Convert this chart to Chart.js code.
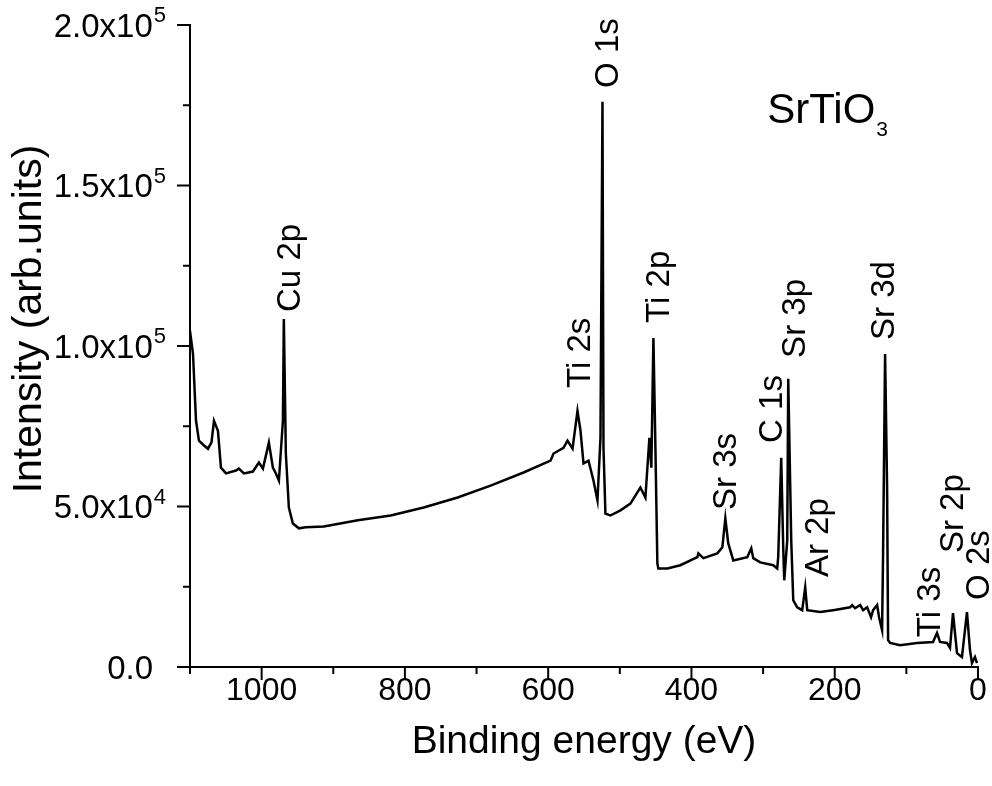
<!DOCTYPE html>
<html>
<head>
<meta charset="utf-8">
<script src="https://cdn.jsdelivr.net/npm/chart.js@4.4.1/dist/chart.umd.min.js"></script>
<style>
html,body{margin:0;padding:0;background:#ffffff;}
#wrap{width:992px;height:786px;position:relative;}
</style>
</head>
<body>
<div id="wrap"><canvas id="c" width="992" height="786"></canvas></div>
<script>
// ---------------- data ----------------
const energy = [
  1100, 1095.8, 1091.6, 1087.5, 1080.5, 1074.9, 1070, 1066.5, 1061, 1056.8,
  1049.8, 1035.9, 1031.7, 1024.7, 1012.2, 1003.8, 998.2, 989.9, 984.3, 980.1,
  975.9, 970.3, 969, 966.2, 962, 956.4, 948, 938.3, 913.2, 865.8,
  819.8, 773.8, 726.4, 680.4, 634.4, 596.7, 592.5, 578.6, 573, 566,
  559.1, 554.9, 550.7, 543.7, 536.8, 531.2, 527, 524.2, 522.8, 520.1,
  513.1, 499.1, 485.2, 471.3, 464.3, 461.5, 458.7, 456, 453.1, 450.3,
  447.6, 446.2, 433.6, 415.5, 391.8, 390.4, 383.4, 363.9, 356.9, 352.7,
  348.6, 341.6, 322.1, 316.5, 313.7, 303.9, 285.8, 280.3, 278.9, 274.7,
  271.9, 270.5, 266.3, 264.9, 260.7, 257.9, 252.4, 245.4, 241.2, 238.4,
  220.3, 202.2, 178.5, 175.7, 171.5, 164.5, 160.4, 154.8, 149.3, 146.4,
  140.8, 138.1, 133.9, 132.5, 129.7, 126.9, 125.5, 122.7, 108.8, 85.1,
  62.8, 57.2, 53, 43.3, 39.1, 34.9, 29.3, 22.4, 15.4, 11.2,
  8.4, 4.2, 1.4
];
const intensity = [
  104700, 97500, 76700, 70500, 69000, 68000, 70000, 76700, 73600, 62100,
  60300, 61200, 61800, 60300, 60900, 63700, 61800, 69900, 62100, 60300,
  58100, 76700, 108400, 66500, 49700, 44700, 43200, 43500, 43800, 45700,
  47200, 49700, 52800, 56500, 60600, 64300, 66500, 68300, 70500, 68000,
  79800, 73600, 63400, 64300, 58100, 51900, 71400, 176100, 68300, 47800,
  47200, 48800, 50900, 55900, 52800, 62100, 71400, 62100, 102500, 68300,
  32300, 30700, 30700, 31700, 34200, 35400, 33900, 35400, 37300, 46300,
  38500, 33200, 34200, 37000, 33900, 32600, 31700, 30700, 34200, 65200,
  37300, 27000, 39400, 89800, 39400, 20800, 18600, 17700, 24800, 17700,
  17100, 17700, 18600, 19300, 18300, 19300, 17700, 18600, 15500, 17700,
  19300, 15500, 11500, 35400, 97500, 55900, 8400, 7500, 6800, 7500,
  7800, 10600, 7800, 7500, 5900, 16800, 4300, 3100, 17100, 5300,
  1200, 3100, 1200
];

const xTickValues = [1100, 1000, 900, 800, 700, 600, 500, 400, 300, 200, 100, 0];
const xTickLabels = ['', '1000', '', '800', '', '600', '', '400', '', '200', '', '0'];
const yTickValues = [0, 25000, 50000, 75000, 100000, 125000, 150000, 175000, 200000];
const yTickMantissas = ['0.0', '', '5.0x10', '', '1.0x10', '', '1.5x10', '', '2.0x10'];
const yTickExponents = ['', '', '4', '', '5', '', '5', '', '5'];

const peakNames = ['Cu 2p', 'Ti 2s', 'O 1s', 'Ti 2p', 'Sr 3s', 'C 1s', 'Sr 3p', 'Ar 2p', 'Sr 3d', 'Ti 3s', 'Sr 2p', 'O 2s'];
const peakLabelEnergy = [963.4, 557.7, 518.7, 447.6, 354.1, 290.0, 257.9, 225.9, 133.9, 69.7, 37.7, 1.4];
const peakLabelIntensity = [110600, 86900, 180400, 107200, 48900, 69800, 96300, 28000, 101900, 9300, 35500, 20900];

const sampleMain = 'SrTiO';
const sampleSub = '3';
const sampleEnergy = 294.2;
const sampleIntensity = 169500;

const xTitle = 'Binding energy (eV)';
const yTitle = 'Intensity (arb.units)';

// ---------------- drawing ----------------
const FAM = '"Liberation Sans", Arial, Helvetica, sans-serif';
const f = (px) => px + 'px ' + FAM;

const decor = {
  id: 'decor',
  afterDraw(chart) {
    const { ctx, chartArea: ca } = chart;
    const xs = chart.scales.x, ys = chart.scales.y;
    ctx.save();
    ctx.strokeStyle = '#000';
    ctx.fillStyle = '#000';
    ctx.lineWidth = 2;
    ctx.lineCap = 'butt';
    // axis lines
    ctx.beginPath();
    ctx.moveTo(ca.left, ys.getPixelForValue(200000) - 1);
    ctx.lineTo(ca.left, ca.bottom);
    ctx.lineTo(xs.getPixelForValue(0) + 1, ca.bottom);
    ctx.stroke();
    // x ticks
    xTickValues.forEach((v, i) => {
      const px = xs.getPixelForValue(v);
      const len = xTickLabels[i] ? 13 : 7;
      ctx.beginPath();
      ctx.moveTo(px, ca.bottom);
      ctx.lineTo(px, ca.bottom + len);
      ctx.stroke();
    });
    // y ticks + labels
    yTickValues.forEach((v, i) => {
      const py = ys.getPixelForValue(v);
      const len = yTickMantissas[i] ? 13 : 7;
      ctx.beginPath();
      ctx.moveTo(ca.left, py);
      ctx.lineTo(ca.left - len, py);
      ctx.stroke();
      if (!yTickMantissas[i]) return;
      const mFont = 33, eFont = 22;
      ctx.textBaseline = 'alphabetic';
      const base = py + mFont * 0.36;
      const right = ca.left - 24;
      ctx.textAlign = 'right';
      if (yTickExponents[i]) {
        ctx.font = f(eFont);
        const ew = ctx.measureText(yTickExponents[i]).width;
        ctx.fillText(yTickExponents[i], right, base - mFont * 0.45);
        ctx.font = f(mFont);
        ctx.fillText(yTickMantissas[i], right - ew - 1, base);
      } else {
        ctx.font = f(mFont);
        ctx.fillText(yTickMantissas[i], right - 13, base);
      }
    });
    // y title
    ctx.save();
    ctx.translate(30, 319);
    ctx.rotate(-Math.PI / 2);
    ctx.font = f(41);
    ctx.textAlign = 'center';
    ctx.textBaseline = 'middle';
    ctx.fillText(yTitle, 0, 0);
    ctx.restore();
    // peak labels
    const pf = 33;
    peakNames.forEach((name, i) => {
      const px = xs.getPixelForValue(peakLabelEnergy[i]);
      const py = ys.getPixelForValue(peakLabelIntensity[i]);
      ctx.save();
      ctx.translate(px, py);
      ctx.rotate(-Math.PI / 2);
      ctx.font = f(pf);
      ctx.textAlign = 'left';
      ctx.textBaseline = 'alphabetic';
      ctx.fillText(name, 0, pf * 0.36);
      ctx.restore();
    });
    // sample name
    const sx = xs.getPixelForValue(sampleEnergy);
    const sy = ys.getPixelForValue(sampleIntensity);
    ctx.font = f(42);
    ctx.textAlign = 'left';
    ctx.textBaseline = 'alphabetic';
    ctx.fillText(sampleMain, sx, sy);
    const w = ctx.measureText(sampleMain).width;
    ctx.font = f(21);
    ctx.fillText(sampleSub, sx + w + 1, sy + 13);
    ctx.restore();
  }
};

new Chart(document.getElementById('c'), {
  type: 'line',
  data: {
    datasets: [{
      data: energy.map((e, i) => ({ x: e, y: intensity[i] })),
      borderColor: '#000',
      borderWidth: 2.5,
      pointRadius: 0,
      tension: 0,
      fill: false
    }]
  },
  options: {
    responsive: false,
    animation: false,
    layout: { padding: { top: 25, right: 14, left: 0, bottom: 0 } },
    plugins: { legend: { display: false }, tooltip: { enabled: false } },
    scales: {
      x: {
        type: 'linear',
        reverse: true,
        min: 0,
        max: 1100,
        afterBuildTicks: (s) => { s.ticks = xTickValues.map(v => ({ value: v })); },
        afterFit: (s) => { s.height = 119; },
        grid: { display: false, drawTicks: false },
        border: { display: false },
        ticks: {
          autoSkip: false,
          maxRotation: 0,
          padding: 5,
          color: '#000',
          font: { family: FAM, size: 32 },
          callback: (v) => { const i = xTickValues.indexOf(v); return i >= 0 ? xTickLabels[i] : ''; }
        },
        title: {
          display: true,
          text: xTitle,
          color: '#000',
          font: { family: FAM, size: 39 },
          padding: { top: 0, bottom: 20 }
        }
      },
      y: {
        type: 'linear',
        min: 0,
        max: 200000,
        afterFit: (s) => { s.width = 190; },
        grid: { display: false, drawTicks: false },
        border: { display: false },
        ticks: { display: false }
      }
    }
  },
  plugins: [decor]
});
</script>
</body>
</html>
